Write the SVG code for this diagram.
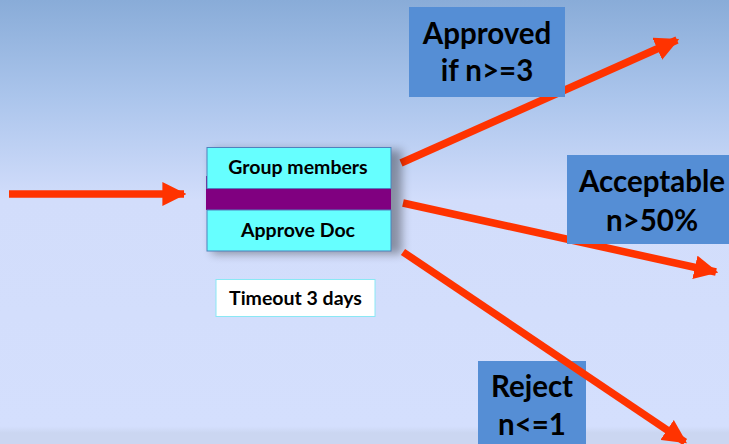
<svg xmlns="http://www.w3.org/2000/svg" width="729" height="444" viewBox="0 0 729 444">
<defs>
<linearGradient id="bg" x1="0" y1="0" x2="0" y2="444" gradientUnits="userSpaceOnUse">
<stop offset="0" stop-color="#89acd8"/>
<stop offset="0.22" stop-color="#abc5ec"/>
<stop offset="0.45" stop-color="#d2ddfb"/>
<stop offset="0.96" stop-color="#d4dffd"/>
<stop offset="0.975" stop-color="#cbd6f1"/>
<stop offset="1" stop-color="#cbd6f1"/>
</linearGradient>
<filter id="sh" x="-20%" y="-30%" width="140%" height="160%">
<feGaussianBlur stdDeviation="5"/>
</filter>
<marker id="ah" viewBox="0 0 10 10" refX="9" refY="5" markerWidth="3.2" markerHeight="3.2" orient="auto" markerUnits="strokeWidth">
<path d="M0,0 L10,5 L0,10 Z" fill="#ff3300"/>
</marker>
<style>
.conn{stroke:#ff3300;stroke-width:7.5;fill:none}
.lbl{fill:#558ed5}
.t{font-family:Lato,"Liberation Sans",sans-serif;font-weight:bold;fill:#000;text-anchor:middle}
.big{font-size:29.5px}
.sm{font-size:19.5px}
.cy{fill:#66ffff;stroke:#4f81bd;stroke-width:1}
</style>
</defs>
<rect width="729" height="444" fill="url(#bg)"/>

<g id="connectors">
<line class="conn" x1="9" y1="194" x2="184" y2="194" marker-end="url(#ah)"/>
<line class="conn" x1="401" y1="163" x2="677" y2="40" marker-end="url(#ah)"/>
<line class="conn" x1="403" y1="203" x2="716" y2="272" marker-end="url(#ah)"/>
</g>

<g id="node-approve">
<rect x="212" y="150" width="190" height="104" fill="#000" opacity="0.35" filter="url(#sh)"/>
<rect x="206" y="176" width="185" height="34" fill="#800080"/>
<rect class="cy" x="207" y="147.5" width="184" height="41"/>
<rect x="206" y="189" width="185" height="21" fill="#800080"/>
<rect class="cy" x="207" y="210" width="184" height="41"/>
<text class="t sm" x="298" y="174">Group members</text>
<text class="t sm" x="298" y="237">Approve Doc</text>
</g>

<g id="node-timeout">
<rect x="216" y="279.5" width="159" height="37" fill="#ffffff" stroke="#8ae8f4" stroke-width="1"/>
<text class="t sm" x="295.5" y="305">Timeout 3 days</text>
</g>

<g id="node-approved">
<rect class="lbl" x="409" y="7" width="156" height="90"/>
<text class="t big" x="487" y="44">Approved</text>
<text class="t big" x="487" y="81">if n&gt;=3</text>
</g>

<g id="node-acceptable">
<rect class="lbl" x="567" y="155" width="162" height="89"/>
<text class="t big" x="652" y="192">Acceptable</text>
<text class="t big" x="652" y="231">n&gt;50%</text>
</g>

<g id="node-reject">
<rect class="lbl" x="478" y="361" width="108" height="83"/>
<text class="t big" x="532" y="397">Reject</text>
<text class="t big" x="532" y="435">n&lt;=1</text>
</g>

<g id="connectors-top">
<line class="conn" x1="403" y1="252" x2="685" y2="442" marker-end="url(#ah)"/>
</g>
</svg>
